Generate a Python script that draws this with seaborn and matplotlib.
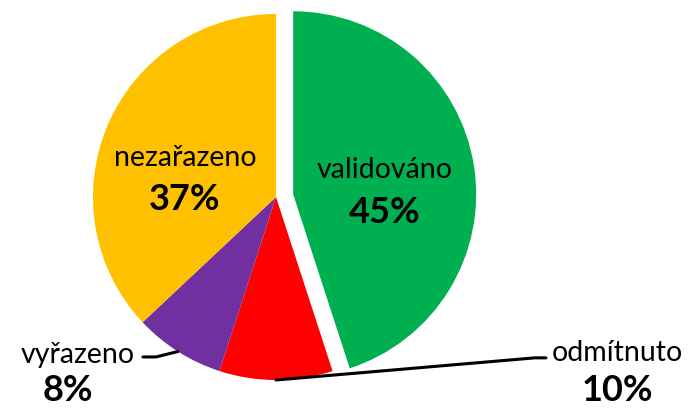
import numpy as np
import seaborn as sns
import matplotlib.pyplot as plt

sns.set_theme(style="white")
plt.rcParams['font.family'] = ['Lato', 'DejaVu Sans']
plt.rcParams['text.color'] = 'black'

# data
labels = ["validováno", "odmítnuto", "vyřazeno", "nezařazeno"]
values = [45, 10, 8, 37]
colors = ["#00B050", "#FF0000", "#7030A0", "#FFC000"]
explode = [0.095, 0, 0, 0]

fig = plt.figure(figsize=(6.88, 4.08), dpi=100)
ax = fig.add_axes([0, 0, 1, 1])

wedges, _ = ax.pie(values, colors=colors, explode=explode, startangle=90,
                   counterclock=False, radius=1.0,
                   wedgeprops={"linewidth": 0})

# center (276, 197) px, radius 183 px
r = 183.0
ax.set_xlim(-276 / r, (688 - 276) / r)
ax.set_ylim((197 - 408) / r, 197 / r)
ax.set_aspect('auto')
ax.axis('off')

lab_size = 20.5
pct_size = 26

# labels inside the big slices
ax.text(0.596, 0.148, labels[0], ha="center", va="center", fontsize=lab_size)
ax.text(0.596, -0.087, f"{values[0]}%", ha="center", va="center",
        fontsize=pct_size, fontweight="bold")
ax.text(-0.497, 0.213, labels[3], ha="center", va="center", fontsize=lab_size)
ax.text(-0.497, -0.016, f"{values[3]}%", ha="center", va="center",
        fontsize=pct_size, fontweight="bold")

# outside labels with leader lines
def edge(w):
    a = np.deg2rad((w.theta1 + w.theta2) / 2)
    return np.cos(a), np.sin(a)

# odmítnuto
ex, ey = edge(wedges[1])
ax.plot([ex, 1.414, 1.475], [ey, -0.879, -0.879], color="black", lw=2.2)
ax.text(1.863, -0.852, labels[1], ha="center", va="center", fontsize=lab_size)
ax.text(1.863, -1.055, f"{values[1]}%", ha="center", va="center",
        fontsize=pct_size, fontweight="bold")

# vyřazeno
ex, ey = edge(wedges[2])
ax.plot([ex, -0.656, -0.727], [ey, -0.874, -0.874], color="black", lw=2.2)
ax.text(-1.082, -0.863, labels[2], ha="center", va="center", fontsize=lab_size)
ax.text(-1.137, -1.055, f"{values[2]}%", ha="center", va="center",
        fontsize=pct_size, fontweight="bold")

plt.savefig("out.png", dpi=100)
